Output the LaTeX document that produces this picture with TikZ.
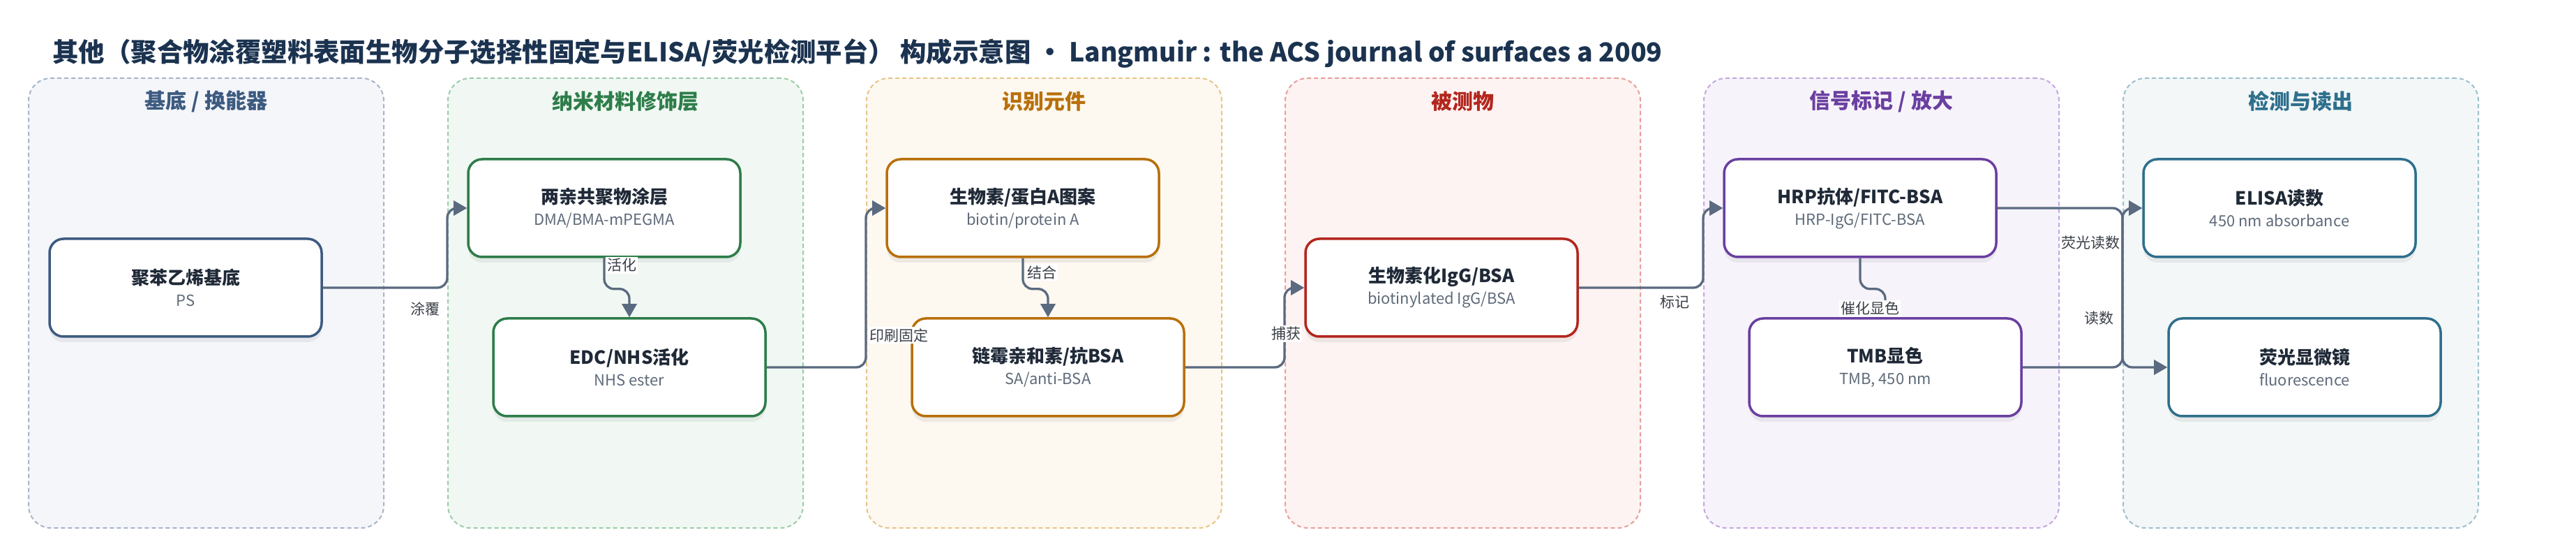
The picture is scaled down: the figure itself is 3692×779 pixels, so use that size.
\documentclass[tikz,border=0pt]{standalone}
\usepackage{fontspec}
\setmainfont{Noto Sans CJK SC}
\usepackage{tikz}
\usetikzlibrary{arrows}
\usetikzlibrary{shadows}

\definecolor{titlenavy}{HTML}{1B3350}
\definecolor{boxtext}{HTML}{1F2937}
\definecolor{subgray}{HTML}{5F6B7A}
\definecolor{lblgray}{HTML}{3A3F47}
\definecolor{flowgray}{HTML}{5A6A80}
\definecolor{basecol}{HTML}{3D5A80}
\definecolor{basefill}{HTML}{F4F6FA}
\definecolor{baseline}{HTML}{A8B5C8}
\definecolor{nanocol}{HTML}{2E7D4A}
\definecolor{nanofill}{HTML}{F1F8F3}
\definecolor{nanoline}{HTML}{9CCCAA}
\definecolor{recogcol}{HTML}{B8700A}
\definecolor{recogfill}{HTML}{FDF8F0}
\definecolor{recogline}{HTML}{E8C48A}
\definecolor{analytecol}{HTML}{B3261E}
\definecolor{analytefill}{HTML}{FDF3F2}
\definecolor{analyteline}{HTML}{E8A09A}
\definecolor{signalcol}{HTML}{6A3FA0}
\definecolor{signalfill}{HTML}{F7F3FB}
\definecolor{signalline}{HTML}{C4A8E0}
\definecolor{readcol}{HTML}{2E6F8C}
\definecolor{readfill}{HTML}{F3F7F8}
\definecolor{readline}{HTML}{9DC0CC}

\newcommand{\boxsub}{\fontsize{11}{15.5}\selectfont\color{subgray}}

\begin{document}
\begin{tikzpicture}[
     x=0.5pt, y=-0.5pt,
     panel/.style={draw, dash pattern=on 3pt off 2pt, line width=1pt, rounded corners=16pt,
       minimum width=254.5pt, minimum height=322pt},
     ptitle/.style={font=\fontsize{15}{18}\selectfont\bfseries},
     box/.style={draw, fill=white, line width=1.75pt, rounded corners=10pt,
       minimum width=195pt, minimum height=70pt, align=center, text=boxtext,
       font=\fontsize{13}{15.5}\selectfont,
       drop shadow={shadow xshift=0pt, shadow yshift=-4pt, opacity=0.12}},
     flow/.style={draw=flowgray, line width=1.65pt, rounded corners=7pt, -triangle 60},
     lbl/.style={fill=white, text=lblgray, inner sep=1pt, font=\fontsize{10.5}{12}\selectfont}
   ]
   \path[use as bounding box, fill=white] (0,0) rectangle (3692,779);
   % Title.
   \node[anchor=west, inner sep=0pt, text=titlenavy, font=\fontsize{18.7}{22}\selectfont\bfseries] (title) at (75,77)
     {其他（聚合物涂覆塑料表面生物分子选择性固定与ELISA/荧光检测平台） 构成示意图 · Langmuir : the ACS journal of surfaces a 2009};
   % Panels.
   \node[panel, draw=baseline, fill=basefill] (basepanel) at (295.5,434) {};
   \node[panel, draw=nanoline, fill=nanofill] (nanopanel) at (896.5,434) {};
   \node[panel, draw=recogline, fill=recogfill] (recogpanel) at (1496.5,434) {};
   \node[panel, draw=analyteline, fill=analytefill] (analytepanel) at (2096.5,434) {};
   \node[panel, draw=signalline, fill=signalfill] (signalpanel) at (2696.5,434) {};
   \node[panel, draw=readline, fill=readfill] (readpanel) at (3297.5,434) {};
   \node[ptitle, text=basecol] (basetitle) at ([yshift=-17pt]basepanel.north) {基底 / 换能器};
   \node[ptitle, text=nanocol] (nanotitle) at ([yshift=-17pt]nanopanel.north) {纳米材料修饰层};
   \node[ptitle, text=recogcol] (recogtitle) at ([yshift=-17pt]recogpanel.north) {识别元件};
   \node[ptitle, text=analytecol] (analytetitle) at ([yshift=-17pt]analytepanel.north) {被测物};
   \node[ptitle, text=signalcol] (signaltitle) at ([yshift=-17pt]signalpanel.north) {信号标记 / 放大};
   \node[ptitle, text=readcol] (readtitle) at ([yshift=-17pt]readpanel.north) {检测与读出};
   % Boxes.
   \node[box, draw=basecol] (ps) at (266,412) {\textbf{聚苯乙烯基底}\\{\boxsub PS}};
   \node[box, draw=nanocol] (coat) at (866,298) {\textbf{两亲共聚物涂层}\\{\boxsub DMA/BMA-mPEGMA}};
   \node[box, draw=nanocol] (edc) at (902,526) {\textbf{EDC/NHS活化}\\{\boxsub NHS ester}};
   \node[box, draw=recogcol] (pattern) at (1466,298) {\textbf{生物素/蛋白A图案}\\{\boxsub biotin/protein A}};
   \node[box, draw=recogcol] (sa) at (1502,526) {\textbf{链霉亲和素/抗BSA}\\{\boxsub SA/anti-BSA}};
   \node[box, draw=analytecol] (igg) at (2066,412) {\textbf{生物素化IgG/BSA}\\{\boxsub biotinylated IgG/BSA}};
   \node[box, draw=signalcol] (hrp) at (2666,298) {\textbf{HRP抗体/FITC-BSA}\\{\boxsub HRP-IgG/FITC-BSA}};
   \node[box, draw=signalcol] (tmb) at (2702,526) {\textbf{TMB显色}\\{\boxsub TMB, 450 nm}};
   \node[box, draw=readcol] (elisa) at (3267,298) {\textbf{ELISA读数}\\{\boxsub 450 nm absorbance}};
   \node[box, draw=readcol] (fluo) at (3303,526) {\textbf{荧光显微镜}\\{\boxsub fluorescence}};
   % Connectors.
   \draw[flow] (ps.east) -- (ps.east -| nanopanel.west) |- (coat.west);
   \draw[flow] (coat.south) -- ++(0,44) -| (edc.north);
   \draw[flow] (edc.east) -- (edc.east -| recogpanel.west) |- (pattern.west);
   \draw[flow] (pattern.south) -- ++(0,44) -| (sa.north);
   \draw[flow] (sa.east) -- (sa.east -| analytepanel.west) |- (igg.west);
   \draw[flow] (igg.east) -- (igg.east -| signalpanel.west) |- (hrp.west);
   \draw[flow] (hrp.south) -- ++(0,44) -| (tmb.north);
   \draw[flow] (hrp.east) -- (hrp.east -| readpanel.west) |- (fluo.west);
   \draw[flow] (tmb.east) -- (tmb.east -| readpanel.west) |- (elisa.west);
   % Labels.
   \node[lbl] (lcoat) at (609,442) {涂覆};
   \node[lbl] (lact) at (891,380) {活化};
   \node[lbl] (lprint) at (1288,480) {印刷固定};
   \node[lbl] (lbind) at (1493,390) {结合};
   \node[lbl] (lcapture) at (1843,478) {捕获};
   \node[lbl] (llabel) at (2400,433) {标记};
   \node[lbl] (lcolor) at (2680,442) {催化显色};
   \node[lbl] (lfluo) at (2996,348) {荧光读数};
   \node[lbl] (lread) at (3008,456) {读数};
 \end{tikzpicture}
\end{document}
